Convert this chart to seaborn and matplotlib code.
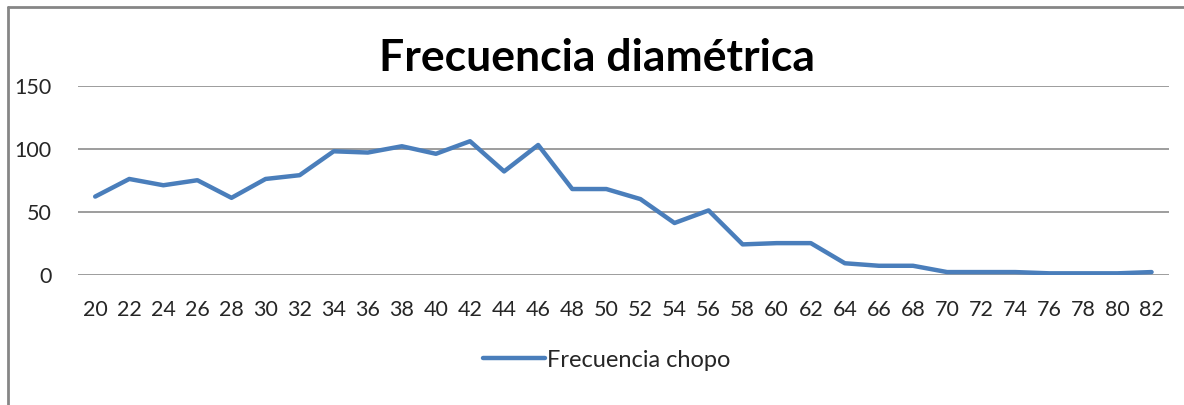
import matplotlib
matplotlib.use("Agg")
import matplotlib.pyplot as plt
import seaborn as sns
import pandas as pd
from matplotlib.lines import Line2D

# datos
diametros = ['20', '22', '24', '26', '28', '30', '32', '34', '36', '38', '40',
             '42', '44', '46', '48', '50', '52', '54', '56', '58', '60', '62',
             '64', '66', '68', '70', '72', '74', '76', '78', '80', '82']
frecuencia = [62, 76, 71, 75, 61, 76, 79, 98, 97, 102, 96,
              106, 82, 103, 68, 68, 60, 41, 51, 24, 25, 25,
              9, 7, 7, 2, 2, 2, 1, 1, 1, 2]
serie = 'Frecuencia chopo'
titulo = 'Frecuencia diamétrica'
yticks = [0, 50, 100, 150]

df = pd.DataFrame({'diametro': diametros, 'frecuencia': frecuencia})

sns.set_style("white")
plt.rcParams['font.family'] = ['Lato', 'DejaVu Sans']

fig = plt.figure(figsize=(11.84, 4.05), dpi=100)
ax = fig.add_axes([0.066, 0.322, 0.921, 0.466])

sns.lineplot(data=df, x='diametro', y='frecuencia', ax=ax, color='#4a7ebb',
             linewidth=3.2, label=serie, sort=False)

ax.set_xlim(-0.5, len(diametros) - 0.5)
ax.set_ylim(0, 150)
ax.set_yticks(yticks)
ax.yaxis.grid(True, color='#8c8c8c', linewidth=1.2)
ax.set_axisbelow(True)
for s in ax.spines.values():
    s.set_visible(False)
ax.tick_params(axis='both', length=0, labelsize=15.5, colors='#262626')
ax.tick_params(axis='y', pad=19)
ax.tick_params(axis='x', pad=18)
ax.set_xlabel('')
ax.set_ylabel('')

fig.text(0.504, 0.858, titulo, ha='center', va='center', fontsize=32,
         fontweight='bold', color='black')

ax.legend(loc='center', bbox_to_anchor=(0.485, -0.453), frameon=False,
          fontsize=17, handlelength=2.6, handletextpad=0.1, labelcolor='#262626')

# marco del area del grafico
fig.add_artist(Line2D([8 / 1184, 8 / 1184], [0, 1 - 6.5 / 405],
                      transform=fig.transFigure, color='#868686', linewidth=2))
fig.add_artist(Line2D([8 / 1184, 1], [1 - 6.5 / 405, 1 - 6.5 / 405],
                      transform=fig.transFigure, color='#868686', linewidth=2))

fig.savefig('out.png', dpi=100)
